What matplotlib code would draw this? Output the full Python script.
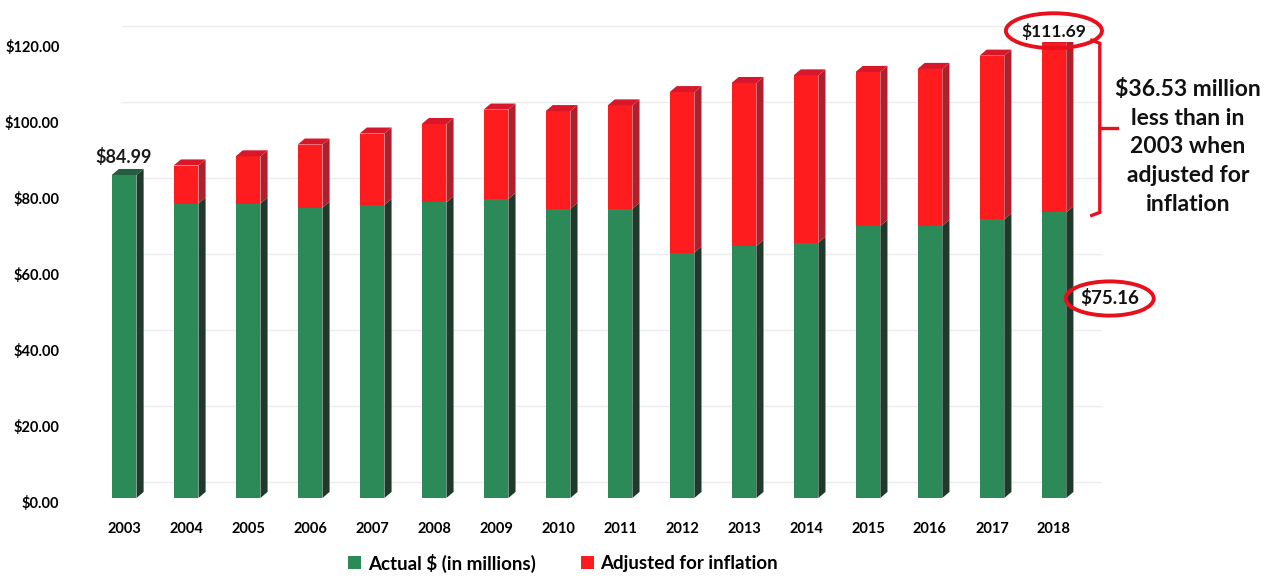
import matplotlib
matplotlib.use("Agg")
import matplotlib.pyplot as plt
from matplotlib.patches import Polygon, Ellipse, Patch
from matplotlib.transforms import ScaledTranslation

# ---- data ----
years = ["2003", "2004", "2005", "2006", "2007", "2008", "2009", "2010",
         "2011", "2012", "2013", "2014", "2015", "2016", "2017", "2018"]
actual = [84.99, 77.5, 77.5, 76.4, 77.1, 77.8, 78.7, 76.1,
          76.1, 64.6, 66.3, 67.2, 71.6, 71.6, 73.3, 75.16]
adjusted_extra = [0.0, 10.0, 12.4, 16.6, 18.8, 20.6, 23.5, 25.7,
                  27.2, 42.2, 42.9, 44.0, 40.5, 41.3, 43.1, 44.5]
yticks = [0, 20, 40, 60, 80, 100, 120]
ytick_labels = ["$0.00", "$20.00", "$40.00", "$60.00", "$80.00", "$100.00", "$120.00"]
legend_labels = ["Actual $ (in millions)", "Adjusted for inflation"]
note_text = "$36.53 million\nless than in\n2003 when\nadjusted for\ninflation"
first_label = "$84.99"
top_label = "$111.69"
low_label = "$75.16"

# ---- style ----
plt.rcParams['font.family'] = ['Lato', 'DejaVu Sans']
G_FRONT, G_SIDE, G_TOP = "#2b8a57", "#1f3a2a", "#245e3e"
R_FRONT, R_SIDE, R_TOP = "#ff1c1f", "#b01f2c", "#d8182a"

W, H = 1278, 576
fig = plt.figure(figsize=(W / 100, H / 100), dpi=100)
ax_left, ax_right = 90, 1088
ax_top, ax_bottom = 42, 498
ax = fig.add_axes([ax_left / W, 1 - ax_bottom / H,
                   (ax_right - ax_left) / W, (ax_bottom - ax_top) / H])
ax.set_xlim(-0.55, 15.55)
ax.set_ylim(0, 120)
for s in ax.spines.values():
    s.set_visible(False)

# faint back-wall gridlines (shifted up-right for pseudo 3D)
grid_off = ScaledTranslation(10 / 100, 16 / 100, fig.dpi_scale_trans)
for v in yticks:
    ax.plot([-0.2, 15.6], [v, v], color="#ececec", lw=1.0,
            transform=ax.transData + grid_off, zorder=0, clip_on=False)

bw = 0.40
dx = 0.115
dy = 1.6
x = list(range(len(years)))

for i in x:
    a = actual[i]
    r = adjusted_extra[i]
    xl, xr = i - bw / 2, i + bw / 2
    ax.add_patch(Polygon([(xl, 0), (xr, 0), (xr, a), (xl, a)], closed=True,
                         facecolor=G_FRONT, edgecolor="none", zorder=3))
    ax.add_patch(Polygon([(xr, 0), (xr + dx, dy), (xr + dx, a + dy), (xr, a)],
                         closed=True, facecolor=G_SIDE, edgecolor="none", zorder=3))
    top = a
    if r > 0:
        ax.add_patch(Polygon([(xl, a), (xr, a), (xr, a + r), (xl, a + r)], closed=True,
                             facecolor=R_FRONT, edgecolor="none", zorder=3))
        ax.add_patch(Polygon([(xr, a), (xr + dx, a + dy), (xr + dx, a + r + dy), (xr, a + r)],
                             closed=True, facecolor=R_SIDE, edgecolor="none", zorder=3))
        top = a + r
        tcol = R_TOP
    else:
        tcol = G_TOP
    ax.add_patch(Polygon([(xl, top), (xr, top), (xr + dx, top + dy), (xl + dx, top + dy)],
                         closed=True, facecolor=tcol, edgecolor="none", zorder=3))

ax.set_xticks(x)
ax.set_xticklabels(years, fontsize=10.5, fontweight="bold")
ax.set_yticks(yticks)
ax.set_yticklabels(ytick_labels, fontsize=10.5, fontweight="bold")
ax.tick_params(axis="x", length=0, pad=17)
ax.tick_params(axis="y", length=0, pad=22)
for lab in ax.get_yticklabels():
    lab.set_transform(lab.get_transform() + ScaledTranslation(0, -4 / 100, fig.dpi_scale_trans))

# annotations
ax.text(0, actual[0] + 4.7, first_label, ha="center", va="center",
        fontsize=13, fontweight="bold", color="#1a1a1a", zorder=5)

last = len(years) - 1
total_last = actual[last] + adjusted_extra[last]
ax.text(last, total_last + 3.2, top_label, ha="center", va="center",
        fontsize=12.5, fontweight="bold", color="#111111", zorder=6, clip_on=False)
ax.add_patch(Ellipse((last, total_last + 3.3), 1.55, 9.2, fill=False,
                     edgecolor="#e8101c", lw=2.8, zorder=6, clip_on=False))

ax.text(last + 0.9, 52.6, low_label, ha="center", va="center",
        fontsize=13.5, fontweight="bold", color="#111111", zorder=6, clip_on=False)
ax.add_patch(Ellipse((last + 0.9, 52.5), 1.42, 9.0, fill=False,
                     edgecolor="#e8101c", lw=2.8, zorder=6, clip_on=False))

# bracket
bx = last + 0.74
hook = 0.13
ax.plot([bx - hook, bx, bx, bx - hook],
        [total_last + 0.8, total_last, actual[last], actual[last] - 0.8],
        color="#e8101c", lw=2.4, clip_on=False, zorder=6, solid_joinstyle="miter")
mid = actual[last] + adjusted_extra[last] / 2
ax.plot([bx, bx + 0.28], [mid, mid], color="#e8101c", lw=2.4, clip_on=False, zorder=6)

fig.text(1188 / W, 1 - 147 / H, note_text, ha="center", va="center",
         fontsize=16.5, fontweight="bold", color="#111111", linespacing=1.45)

handles = [Patch(facecolor=G_FRONT, edgecolor="none"),
           Patch(facecolor=R_FRONT, edgecolor="none")]
leg = fig.legend(handles, legend_labels, loc="center", bbox_to_anchor=(563 / W, 1 - 563 / H),
                 ncol=2, frameon=False, handlelength=0.7, handleheight=0.7,
                 handletextpad=0.35, columnspacing=2.4,
                 prop={"family": ["Lato", "DejaVu Sans"], "weight": "bold", "size": 13.5})

fig.savefig("out.png", dpi=100, facecolor="white")
